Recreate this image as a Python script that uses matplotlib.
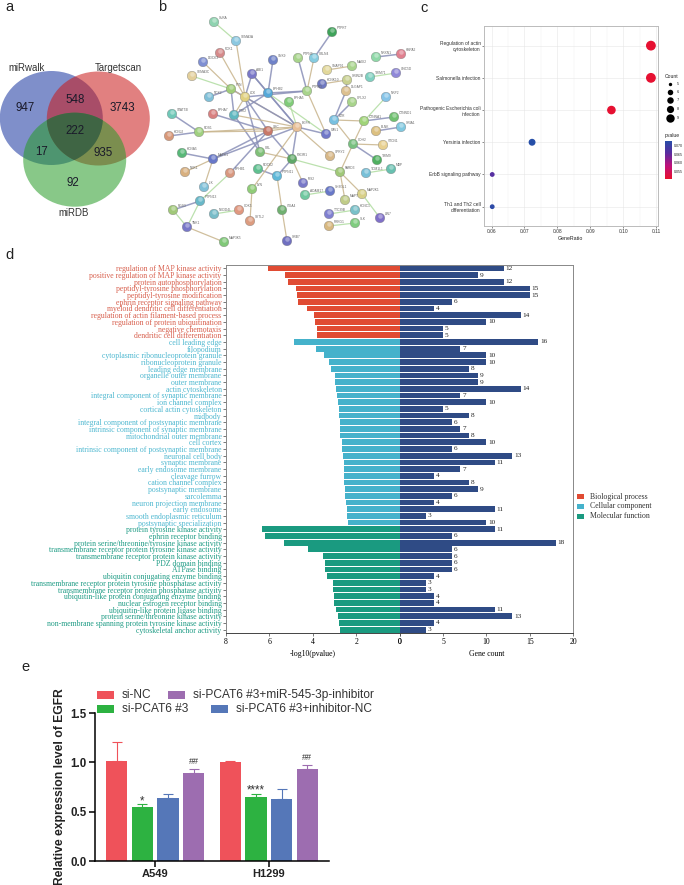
import numpy as np
import matplotlib
matplotlib.use('Agg')
import matplotlib.pyplot as plt
from matplotlib.colors import LinearSegmentedColormap, Normalize
from matplotlib.patches import Ellipse, Polygon, Rectangle

# --- panel a: venn ---
venn_sets = ['miRwalk', 'Targetscan', 'miRDB']
venn_counts = ['947', '548', '3743', '222', '17', '935', '92']

# --- panel b: network ---
node_names = ['GLRA', 'SEMA3A', 'PTPRT', 'PDK1', 'DOCK3', 'SEMA3C', 'ABI1', 'SNX9', 'PTPN3', 'CBLN4',
              'SNAP91', 'MAGI2', 'NRXN1', 'HSPA2', 'TRIM71', 'UNC5D', 'KCNK10', 'GRIN2B', 'DLGAP1', 'CPLX2',
              'NRP2', 'PTPRD', 'EPHB2', 'FYN', 'LCK', 'NCK2', 'EPHA5', 'PTK2', 'EPHA7', 'STAT5B',
              'ROS1', 'KCNJ2', 'SRC', 'EGFR', 'CAV1', 'EZR', 'CTNNA1', 'CTNND1', 'GRIA1', 'BLNK',
              'CDH2', 'VTCN1', 'TRIM9', 'SPRY2', 'KCNA5', 'MAPK1', 'NEK1', 'CBL', 'PIK3R1', 'EPHB1',
              'ROCK2', 'PTPN11', 'PARD3', 'TOM1L1', 'MBP', 'IRS2', 'ADAM17', 'SH3GL1', 'MAP2K1', 'MAPT',
              'LIN7', 'TTC39B', 'KCNC1', 'PRKG1', 'SLK', 'ILK', 'LYN', 'PTPN13', 'RGS3', 'TNK1',
              'NEDD4L', 'CDK5', 'SYTL2', 'ITGA4', 'MAP3K5', 'GRB7']
node_x = [214, 236, 332, 220, 203, 192, 252, 273, 298, 314,
          327, 352, 376, 401, 370, 396, 322, 347, 346, 352,
          386, 307, 268, 231, 245, 209, 289, 234, 213, 172,
          199, 169, 268, 297, 326, 334, 364, 394, 401, 376,
          353, 383, 377, 330, 182, 213, 185, 260, 292, 230,
          258, 277, 340, 366, 391, 303, 305, 330, 362, 345,
          380, 329, 355, 329, 355, 204, 252, 200, 173, 187,
          214, 239, 250, 282, 224, 287]
node_y = [22, 41, 32, 53, 62, 76, 74, 60, 58, 58,
          70, 66, 57, 54, 77, 73, 84, 80, 91, 102,
          97, 91, 93, 89, 97, 97, 102, 115, 114, 114,
          132, 136, 131, 127, 134, 120, 121, 117, 127, 131,
          144, 145, 160, 156, 153, 159, 172, 152, 159, 173,
          169, 176, 172, 173, 169, 183, 195, 191, 194, 200,
          218, 214, 210, 226, 223, 187, 189, 201, 210, 227,
          214, 210, 221, 210, 242, 241]
node_colors = ['#8fd3b0', '#8cc8e0', '#3fa35a', '#d58a8a', '#7f8fd2', '#e3cf9a', '#7a78c8', '#6f82c8', '#a8d48c', '#86cce0',
               '#e2d89a', '#a8d48c', '#8fd8a8', '#e0808f', '#7fd0c0', '#8f88d8', '#6f78c0', '#c8d090', '#dcc090', '#a8d48c',
               '#86c4e8', '#a8d48c', '#55a8d8', '#a0cc78', '#e0d080', '#80c0d8', '#80cc78', '#60b8c0', '#d88080', '#70c8b8',
               '#a0d080', '#d89878', '#c87868', '#e8c098', '#7078c8', '#78c0e0', '#a0d478', '#70c070', '#80c8e0', '#dcc080',
               '#78c080', '#e8d090', '#50b060', '#d8b888', '#58b878', '#6878c8', '#d8b080', '#80c078', '#60a868', '#d89880',
               '#60c090', '#60b8d8', '#a0c878', '#78c0d8', '#68c0b0', '#7878c8', '#70c8a0', '#6878c8', '#d8d088', '#c0cc88',
               '#8070c8', '#8080d0', '#78c0c8', '#d8b880', '#80cc80', '#80c0d8', '#90cc78', '#68b8c8', '#a0c878', '#7878c8',
               '#78bcc8', '#e09880', '#dc9c80', '#70b070', '#80c878', '#7070c0']
edge_pairs = [('GLRA', 'SEMA3A', 'c'), ('SEMA3A', 'LCK', 'a'), ('DOCK3', 'FYN', 'a'), ('PDK1', 'LCK', 'a'),
              ('SEMA3C', 'FYN', 'c'), ('ABI1', 'LCK', 'b'), ('ABI1', 'EPHB2', 'b'), ('ABI1', 'EGFR', 'b'),
              ('SNX9', 'EPHB2', 'b'), ('PTPN3', 'PTPRD', 'b'), ('CBLN4', 'PTPRD', 'a'), ('EPHB2', 'PTPRD', 'b'),
              ('LCK', 'PTPRD', 'b'), ('NCK2', 'FYN', 'b'), ('FYN', 'LCK', 'b'), ('FYN', 'PTK2', 'b'),
              ('FYN', 'EGFR', 'a'), ('LCK', 'PTK2', 'a'), ('LCK', 'EGFR', 'b'), ('LCK', 'SRC', 'b'),
              ('LCK', 'CBL', 'b'), ('EPHB2', 'EGFR', 'b'), ('EPHB2', 'CAV1', 'c'), ('EPHB2', 'PTK2', 'b'),
              ('PTK2', 'EGFR', 'a'), ('EPHA7', 'SRC', 'b'), ('PTK2', 'CBL', 'b'), ('EPHA5', 'EGFR', 'c'),
              ('PTPRD', 'CAV1', 'a'), ('EGFR', 'SRC', 'a'), ('EGFR', 'CAV1', 'b'), ('EGFR', 'SPRY2', 'a'),
              ('EGFR', 'PIK3R1', 'b'), ('EGFR', 'MAPK1', 'b'), ('EGFR', 'ROS1', 'a'), ('ROS1', 'SRC', 'a'),
              ('STAT5B', 'ROS1', 'b'), ('KCNJ2', 'ROS1', 'b'), ('SRC', 'MAPK1', 'b'), ('SRC', 'EPHB1', 'b'),
              ('SRC', 'PIK3R1', 'b'), ('KCNA5', 'MAPK1', 'b'), ('NEK1', 'MAPK1', 'a'), ('ILK', 'MAPK1', 'a'),
              ('CBL', 'PIK3R1', 'a'), ('PIK3R1', 'PARD3', 'c'), ('PIK3R1', 'PTPN11', 'b'), ('PIK3R1', 'IRS2', 'a'),
              ('ROCK2', 'PTPN11', 'b'), ('PTPN11', 'ITGA4', 'a'), ('ITGA4', 'GRB7', 'a'), ('LYN', 'EGFR', 'a'),
              ('LYN', 'SYTL2', 'a'), ('PTPN13', 'EPHB1', 'c'), ('RGS3', 'PTPN13', 'b'), ('TNK1', 'PTPN13', 'c'),
              ('TNK1', 'RGS3', 'c'), ('TNK1', 'MAP3K5', 'a'), ('NEDD4L', 'CDK5', 'c'), ('ADAM17', 'SH3GL1', 'c'),
              ('PARD3', 'CDH2', 'a'), ('PARD3', 'MAP2K1', 'a'), ('PARD3', 'MAPT', 'a'), ('MAP2K1', 'LIN7', 'c'),
              ('CDH2', 'CTNNA1', 'a'), ('CDH2', 'EZR', 'a'), ('CDH2', 'VTCN1', 'a'), ('CDH2', 'TRIM9', 'b'),
              ('EZR', 'CTNNA1', 'a'), ('EZR', 'DLGAP1', 'b'), ('DLGAP1', 'GRIN2B', 'b'), ('EZR', 'CPLX2', 'b'),
              ('CTNNA1', 'CTNND1', 'b'), ('CTNNA1', 'NRP2', 'c'), ('BLNK', 'GRIA1', 'b'), ('TOM1L1', 'MBP', 'c'),
              ('SNAP91', 'MAGI2', 'a'), ('NRXN1', 'HSPA2', 'b'), ('TRIM71', 'UNC5D', 'c'), ('KCNK10', 'GRIN2B', 'a'),
              ('PTPRT', 'CBLN4', 'b'), ('TTC39B', 'KCNC1', 'c'), ('PRKG1', 'SLK', 'c')]
edge_colors = {'a': '#c8b48c', 'b': '#8a90b8', 'c': '#b0dca0'}

# --- panel c: dot plot ---
pathways = ['Regulation of actin\ncytoskeleton', 'Salmonella infection', 'Pathogenic Escherichia coli\ninfection',
            'Yersinia infection', 'ErbB signaling pathway', 'Th1 and Th2 cell\ndifferentiation']
gene_ratio = [0.1084, 0.1084, 0.0964, 0.0723, 0.0602, 0.0602]
path_count = [9, 9, 8, 6, 5, 5]
path_pvalue = [0.051, 0.051, 0.051, 0.0725, 0.066, 0.0715]
count_levels = [5, 6, 7, 8, 9]
pvalue_ticks = [0.070, 0.065, 0.060, 0.055]

# --- panel d: GO terms ---
go_bp = ['regulation of MAP kinase activity', 'positive regulation of MAP kinase activity',
         'protein autophosphorylation', 'peptidyl-tyrosine phosphorylation', 'peptidyl-tyrosine modification',
         'ephrin receptor signaling pathway', 'myeloid dendritic cell differentiation',
         'regulation of actin filament-based process', 'regulation of protein ubiquitination',
         'negative chemotaxis', 'dendritic cell differentiation']
go_cc = ['cell leading edge', 'filopodium', 'cytoplasmic ribonucleoprotein granule', 'ribonucleoprotein granule',
         'leading edge membrane', 'organelle outer membrane', 'outer membrane', 'actin cytoskeleton',
         'integral component of synaptic membrane', 'ion channel complex', 'cortical actin cytoskeleton', 'midbody',
         'integral component of postsynaptic membrane', 'intrinsic component of synaptic membrane',
         'mitochondrial outer membrane', 'cell cortex', 'intrinsic component of postsynaptic membrane',
         'neuronal cell body', 'synaptic membrane', 'early endosome membrane', 'cleavage furrow',
         'cation channel complex', 'postsynaptic membrane', 'sarcolemma', 'neuron projection membrane',
         'early endosome', 'smooth endoplasmic reticulum', 'postsynaptic specialization']
go_mf = ['protein tyrosine kinase activity', 'ephrin receptor binding',
         'protein serine/threonine/tyrosine kinase activity', 'transmembrane receptor protein tyrosine kinase activity',
         'transmembrane receptor protein kinase activity', 'PDZ domain binding', 'ATPase binding',
         'ubiquitin conjugating enzyme binding', 'transmembrane receptor protein tyrosine phosphatase activity',
         'transmembrane receptor protein phosphatase activity', 'ubiquitin-like protein conjugating enzyme binding',
         'nuclear estrogen receptor binding', 'ubiquitin-like protein ligase binding',
         'protein serine/threonine kinase activity', 'non-membrane spanning protein tyrosine kinase activity',
         'cytoskeletal anchor activity']
logp_bp = [6.05, 5.27, 5.15, 4.76, 4.73, 4.69, 4.26, 3.92, 3.90, 3.81, 3.81]
logp_cc = [4.84, 3.84, 3.47, 3.23, 3.18, 2.98, 2.97, 2.94, 2.90, 2.83, 2.78, 2.77, 2.75, 2.75,
           2.75, 2.66, 2.66, 2.60, 2.57, 2.55, 2.55, 2.55, 2.53, 2.53, 2.46, 2.43, 2.41, 2.38]
logp_mf = [6.31, 6.19, 5.33, 4.20, 3.53, 3.44, 3.44, 3.33, 3.06, 3.06, 3.04, 3.00, 2.94, 2.83, 2.77, 2.74]
genes_bp = [12, 9, 12, 15, 15, 6, 4, 14, 10, 5, 5]
genes_cc = [16, 7, 10, 10, 8, 9, 9, 14, 7, 10, 5, 8, 6, 7, 8, 10, 6, 13, 11, 7, 4, 8, 9, 6, 4, 11, 3, 10]
genes_mf = [11, 6, 18, 6, 6, 6, 6, 4, 3, 3, 4, 4, 11, 13, 4, 3]

# --- panel e: EGFR expression ---
cell_lines = ['A549', 'H1299']
group_names = ['si-NC', 'si-PCAT6 #3', 'si-PCAT6 #3+inhibitor-NC', 'si-PCAT6 #3+miR-545-3p-inhibitor']
egfr_mean = [[1.01, 1.00], [0.55, 0.65], [0.64, 0.625], [0.89, 0.93]]
egfr_err = [[0.20, 0.017], [0.025, 0.03], [0.035, 0.105], [0.04, 0.04]]
egfr_marks = [['', ''], ['*', '****'], ['', ''], ['##', '##']]

W, H = 684, 885
SANS = 'Liberation Sans'
SERIF = 'Liberation Serif'
plt.rcParams['font.family'] = SANS


def px_axes(fig, x0, y0, x1, y1):
    """Axes placed by reference picture pixels (y measured from the top)."""
    return fig.add_axes([x0 / W, 1 - y1 / H, (x1 - x0) / W, (y1 - y0) / H])


def diam_to_s(d):
    return (d * 0.72) ** 2


def plot_venn(ax):
    circles = [(51.3, 118, '#1633a0'), (98.3, 118.5, '#ca1818'), (74.7, 159.7, '#279b27')]
    rx, ry = 51.5, 47
    for cx, cy, col in circles:
        ax.add_patch(Ellipse((cx, cy), 2 * rx, 2 * ry, facecolor=col, edgecolor='none', alpha=0.55))

    # the part common to all three is darker than the alpha stack gives
    angles = np.linspace(0, 2 * np.pi, 240, endpoint=False)
    ox, oy = 75, 130
    reach = np.full(angles.shape, np.inf)
    for cx, cy, _ in circles:
        dx, dy = np.cos(angles) / rx, np.sin(angles) / ry
        fx, fy = (ox - cx) / rx, (oy - cy) / ry
        a = dx ** 2 + dy ** 2
        b = 2 * (dx * fx + dy * fy)
        c = fx ** 2 + fy ** 2 - 1
        reach = np.minimum(reach, (-b + np.sqrt(b ** 2 - 4 * a * c)) / (2 * a))
    ax.add_patch(Polygon(np.column_stack([ox + reach * np.cos(angles), oy + reach * np.sin(angles)]),
                         facecolor='#3f6544', edgecolor='none'))

    for name, x, y in zip(venn_sets, (27, 118, 74), (68, 68, 213)):
        ax.text(x, y, name, fontsize=6.9, ha='center', va='center', color='#333333')
    spots = [(25, 108), (75, 100), (122, 108), (75, 131), (42, 152), (103, 153), (73, 183)]
    for txt, (x, y) in zip(venn_counts, spots):
        ax.text(x, y, txt, fontsize=8.3, ha='center', va='center', color='#1a1a2a')


def plot_network(ax):
    pos = {n: (x, y) for n, x, y in zip(node_names, node_x, node_y)}
    for a, b, kind in edge_pairs:
        (x0, y0), (x1, y1) = pos[a], pos[b]
        ax.plot([x0, x1], [y0, y1], color=edge_colors[kind], lw=1.1 if kind == 'b' else 0.9, alpha=0.85, zorder=2)
    ax.scatter(node_x, node_y, s=diam_to_s(9.5), c=node_colors, edgecolors='#777777', linewidths=0.25, zorder=3)
    # small glossy spot on every node
    ax.scatter(node_x, np.array(node_y) - 1.8, s=diam_to_s(4.5), c='white', alpha=0.35, linewidths=0, zorder=4)
    for n, x, y in zip(node_names, node_x, node_y):
        ax.text(x + 4.5, y - 4, n, fontsize=2.3, color='#666666', ha='left', va='center', zorder=5)


def plot_dots(fig, overlay):
    ax = px_axes(fig, 484, 26, 657.7, 226)
    cmap = LinearSegmentedColormap.from_list('pv', ['#e8102c', '#c0107a', '#5a2ca0', '#2450a8'])
    norm = Normalize(0.0505, 0.0728)
    rows = np.arange(len(pathways))
    ax.set_axisbelow(True)
    diam = {5: 3.4, 6: 5.5, 7: 6.5, 8: 7.2, 9: 8.4}
    ax.scatter(gene_ratio, rows, s=[diam_to_s(diam[c]) for c in path_count], c=path_pvalue, cmap=cmap, norm=norm, zorder=3)
    ax.set_xlim(0.0577, 0.11046)
    ax.set_ylim(5.6, -0.61)
    ax.set_yticks(rows)
    ax.set_yticklabels(pathways, fontsize=3.5, color='#333333', linespacing=1.25)
    ax.set_xticks([0.06, 0.07, 0.08, 0.09, 0.10, 0.11])
    ax.set_xticklabels(['0.06', '0.07', '0.08', '0.09', '0.10', '0.11'], fontsize=3.5, color='#333333')
    ax.set_xticks([0.065, 0.075, 0.085, 0.095, 0.105], minor=True)
    ax.grid(which='major', color='#e6e6e6', lw=0.4)
    ax.grid(which='minor', axis='x', color='#f0f0f0', lw=0.3)
    ax.tick_params(which='major', length=1.5, width=0.4, pad=1, color='#333333')
    ax.tick_params(which='minor', length=0)
    ax.set_xlabel('GeneRatio', fontsize=3.8, labelpad=1, color='#222222')
    for s in ax.spines.values():
        s.set_color('#bbbbbb')
        s.set_linewidth(0.7)

    overlay.text(665, 76, 'Count', fontsize=3.6, va='center', color='#222222')
    for lev, y in zip(count_levels, (84.3, 92, 100.3, 108.7, 118.3)):
        overlay.scatter([670], [y], s=diam_to_s(diam[lev]), c='black', linewidths=0)
        overlay.text(677, y, str(lev), fontsize=2.8, va='center', color='#222222')
    overlay.text(665, 136, 'pvalue', fontsize=3.6, va='center', color='#222222')

    cax = px_axes(fig, 665, 141, 672, 179)
    grad = np.linspace(1, 0, 128).reshape(-1, 1)
    cax.imshow(grad, aspect='auto', cmap=cmap, vmin=0, vmax=1, extent=[0, 1, norm.vmin, norm.vmax], origin='upper')
    cax.set_xticks([])
    cax.yaxis.tick_right()
    cax.set_yticks(pvalue_ticks)
    cax.set_yticklabels(['%.3f' % v for v in pvalue_ticks], fontsize=2.6, color='#222222')
    cax.tick_params(length=0, pad=1.5)
    for s in cax.spines.values():
        s.set_visible(False)


def plot_go(fig, overlay):
    terms = go_bp + go_cc + go_mf
    logp = logp_bp + logp_cc + logp_mf
    genes = genes_bp + genes_cc + genes_mf
    cols = ['#e04b33'] * len(go_bp) + ['#45b2cb'] * len(go_cc) + ['#1a9a80'] * len(go_mf)
    txt_cols = ['#d8604e'] * len(go_bp) + ['#4fb8d0'] * len(go_cc) + ['#1f9c85'] * len(go_mf)
    rows = np.arange(len(terms))

    left = px_axes(fig, 225.7, 265, 399.7, 633)
    left.barh(rows, logp, height=0.86, color=cols)
    left.set_xlim(8, 0)
    left.set_ylim(len(terms) - 0.5, -0.5)
    left.set_yticks(rows)
    left.set_yticklabels(terms, fontsize=5.55, family=SERIF)
    for lab, c in zip(left.get_yticklabels(), txt_cols):
        lab.set_color(c)
    left.set_xticks([8, 6, 4, 2, 0])
    left.set_xlabel('-log10(pvalue)', fontsize=5.6, family=SERIF, labelpad=3)

    right = px_axes(fig, 399.7, 265, 573, 633)
    right.barh(rows, genes, height=0.86, color='#2f4b85')
    right.set_xlim(0, 20)
    right.set_ylim(len(terms) - 0.5, -0.5)
    right.set_yticks([])
    right.set_xticks([0, 5, 10, 15, 20])
    right.set_xlabel('Gene count', fontsize=5.6, family=SERIF, labelpad=3)
    for y, g in zip(rows, genes):
        right.text(g + 0.2, y, str(g), fontsize=5.2, family=SERIF, va='center', color='#222222')

    for ax in (left, right):
        ax.tick_params(axis='y', length=2, width=0.5, pad=1, color='#444444')
        ax.tick_params(axis='x', length=2, width=0.5, pad=1.5, labelsize=5.6, color='#444444')
        for lab in ax.get_xticklabels():
            lab.set_family(SERIF)
        for s in ax.spines.values():
            s.set_color('#888888')
            s.set_linewidth(0.7)
        ax.spines['bottom'].set_color('#444444')
    left.spines['right'].set_visible(False)
    right.spines['left'].set_visible(False)

    for name, col, y in zip(('Biological process', 'Cellular component', 'Molecular function'),
                            ('#e04b33', '#45b2cb', '#1a9a80'), (496.7, 506.5, 516.3)):
        overlay.add_patch(Rectangle((577, y - 2.5), 7, 5, facecolor=col, edgecolor='none'))
        overlay.text(590, y, name, fontsize=5.6, family=SERIF, va='center', color='#333333')


def plot_bars(fig, overlay):
    ax = px_axes(fig, 95, 713, 329.3, 861)
    colors = ['#ef525a', '#2db241', '#5577b8', '#9d6db0']
    x = np.arange(len(cell_lines))
    pitch, width = 0.2257, 0.1876
    for i, col in enumerate(colors):
        xs = x + (i - 1.5) * pitch
        ax.bar(xs, egfr_mean[i], width=width, color=col)
        ax.errorbar(xs, egfr_mean[i], yerr=[np.zeros(2), egfr_err[i]], fmt='none', ecolor=col, elinewidth=0.8,
                    capsize=3.5, capthick=0.8)
        for xx, m, e, mark in zip(xs, egfr_mean[i], egfr_err[i], egfr_marks[i]):
            if mark == '##':
                ax.text(xx, m + e + 0.049, mark, fontsize=6.5, ha='center', va='baseline', color='#333333')
            elif mark:
                ax.text(xx, m + e, mark, fontsize=8.4, ha='center', va='baseline', color='#333333')
    ax.set_xlim(-0.528, 1.533)
    ax.set_ylim(0, 1.5)
    ax.set_xticks(x)
    ax.set_xticklabels(cell_lines, fontsize=8, fontweight='bold', color='#222222')
    ax.set_yticks([0, 0.5, 1.0, 1.5])
    ax.set_yticklabels(['0.0', '0.5', '1.0', '1.5'], fontsize=8.3, fontweight='bold', color='#222222')
    ax.tick_params(length=4, width=1.1, pad=2)
    for s in ('top', 'right'):
        ax.spines[s].set_visible(False)
    for s in ('left', 'bottom'):
        ax.spines[s].set_linewidth(1.1)

    overlay.text(60, 786.5, 'Relative expression level of EGFR', rotation=90, fontsize=8.7, fontweight='bold',
                 ha='center', va='center', color='#222222')
    slots = [(97, 695, 122), (97, 709, 122), (211, 709, 236), (168, 695, 193)]
    for name, col, (rx, ry, tx) in zip(group_names, colors, slots):
        overlay.add_patch(Rectangle((rx, ry - 4), 16.5, 8, facecolor=col, edgecolor='none'))
        overlay.text(tx, ry, name, fontsize=8.6, va='center', color='#333333')


if __name__ == '__main__':
    fig = plt.figure(figsize=(W / 100, H / 100), dpi=100)

    overlay = fig.add_axes([0, 0, 1, 1], facecolor='none')
    overlay.set_xlim(0, W)
    overlay.set_ylim(H, 0)
    overlay.axis('off')

    plot_venn(overlay)
    plot_network(overlay)
    plot_dots(fig, overlay)
    plot_go(fig, overlay)
    plot_bars(fig, overlay)

    for letter, x, y in zip('abcde', (9, 162, 424, 9, 25), (7, 7, 8, 255, 667)):
        overlay.text(x, y, letter, fontsize=10.5, ha='center', va='center', color='#222222')

    fig.savefig('out.png', dpi=100)
